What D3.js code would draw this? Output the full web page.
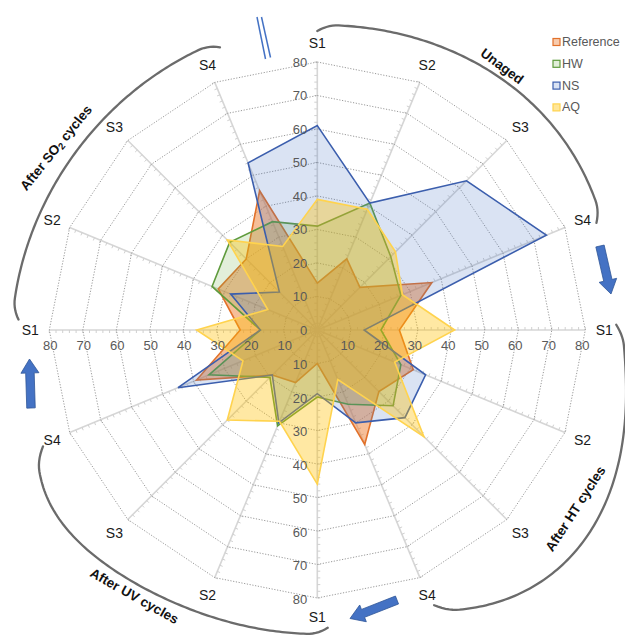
<!DOCTYPE html>
<html>
<head>
<meta charset="utf-8">
<script src="https://cdn.jsdelivr.net/npm/d3@7"></script>
<style>
  body { margin: 0; background: #fff; }
  svg { display: block; font-family: "Liberation Sans", Arial, Helvetica, sans-serif; }
</style>
</head>
<body>
<svg id="chart" width="625" height="637"></svg>
<script>
// ---- data ----
const categories = ["S1","S2","S3","S4","S1","S2","S3","S4","S1","S2","S3","S4","S1","S2","S3","S4"];
const groupNames = ["Unaged", "After HT cycles", "After UV cycles", "After SO2 cycles"];
const seriesNames = ["Reference", "HW", "NS", "AQ"];
const referenceValues = [14, 23, 18, 37, 24.5, 31, 26, 37, 10, 17, 19, 39, 23, 32, 30, 45];
const hwValues        = [31, 41, 31, 27, 19, 27, 32, 24, 20, 31, 20, 35, 17, 34, 37, 35];
const nsValues        = [61, 41, 63, 74, 14, 35, 37, 30, 19, 30, 19, 45, 17, 28, 16, 54];
const aqValues        = [39, 39, 33, 27.5, 41, 25, 45, 16, 46, 29.5, 38, 24, 36, 16, 38, 27];
const gridLevels = [10, 20, 30, 40, 50, 60, 70, 80];
const tickLabels = [0, 10, 20, 30, 40, 50, 60, 70, 80];

// ---- styles ----
const seriesStyles = [
  { stroke: "#E2712A", fill: "rgba(237,125,49,0.5)",  swFill: "#F8CBAD" },
  { stroke: "#5F9B3D", fill: "rgba(112,173,71,0.2)",  swFill: "#E2EFDA" },
  { stroke: "#3B5EAD", fill: "rgba(68,114,196,0.2)",  swFill: "#DAE3F3" },
  { stroke: "#FFD34E", fill: "rgba(255,192,0,0.36)",  swFill: "#FFE699" }
];
const seriesValues = [referenceValues, hwValues, nsValues, aqValues];

const cx = 317.3, cy = 330, R = 268;
const svg = d3.select("#chart");
const rScale = d3.scaleLinear().domain([0, 80]).range([0, R]);
const angle = i => i * 2 * Math.PI / categories.length;
const px = (a, r) => Math.sin(a) * r;
const py = (a, r) => -Math.cos(a) * r;

const g = svg.append("g").attr("transform", `translate(${cx},${cy})`);

// ---- spokes with minor ticks ----
const spokes = g.append("g");
categories.forEach((c, i) => {
  const a = angle(i);
  spokes.append("line")
    .attr("x1", 0).attr("y1", 0)
    .attr("x2", px(a, R)).attr("y2", py(a, R))
    .attr("stroke", "#d6d6d6").attr("stroke-width", 1.6);
  const tx = -Math.cos(a), ty = -Math.sin(a);
  d3.range(2, 81, 2).forEach(v => {
    const rr = rScale(v);
    spokes.append("line")
      .attr("x1", px(a, rr)).attr("y1", py(a, rr))
      .attr("x2", px(a, rr) + tx * 3).attr("y2", py(a, rr) + ty * 3)
      .attr("stroke", "#d0d0d0").attr("stroke-width", 1);
  });
});

// ---- dotted polygon grid ----
const gridLine = d3.lineRadial()
  .angle((d, i) => angle(i))
  .curve(d3.curveLinearClosed);
gridLevels.forEach(lv => {
  g.append("path")
    .attr("d", gridLine.radius(() => rScale(lv))(categories))
    .attr("fill", "none")
    .attr("stroke", "#9a9a9a")
    .attr("stroke-width", 1)
    .attr("stroke-dasharray", "1.2,1.6");
});

// ---- series polygons ----
const seriesLine = d3.lineRadial()
  .angle((d, i) => angle(i))
  .radius(d => rScale(d))
  .curve(d3.curveLinearClosed);
seriesValues.forEach((vals, k) => {
  g.append("path")
    .attr("d", seriesLine(vals))
    .attr("fill", seriesStyles[k].fill)
    .attr("stroke", seriesStyles[k].stroke)
    .attr("stroke-width", 1.6)
    .attr("stroke-linejoin", "miter");
});

// ---- value labels on the four main axes ----
const lab = g.append("g").attr("font-size", 13).attr("fill", "#595959");
tickLabels.forEach(v => {
  const rr = rScale(v);
  // top axis
  lab.append("text").attr("x", -10).attr("y", -rr).attr("text-anchor", "end")
    .attr("dominant-baseline", "central").text(v);
  if (v === 0) return;
  // right axis
  lab.append("text").attr("x", rr - 3).attr("y", 15).attr("text-anchor", "middle")
    .attr("dominant-baseline", "central").text(v);
  // bottom axis
  lab.append("text").attr("x", -10).attr("y", rr + 1).attr("text-anchor", "end")
    .attr("dominant-baseline", "central").text(v);
  // left axis
  lab.append("text").attr("x", -rr + 1).attr("y", 15).attr("text-anchor", "middle")
    .attr("dominant-baseline", "central").text(v);
});

// ---- category labels ----
categories.forEach((c, i) => {
  const a = angle(i);
  g.append("text")
    .attr("x", px(a, 287)).attr("y", py(a, 287))
    .attr("text-anchor", "middle").attr("dominant-baseline", "central")
    .attr("font-size", 14).attr("fill", "#1a1a1a").text(c);
});

// ---- group brackets ----
const deg = Math.PI / 180;
function bracket(a0, a1, rEnd, rMid, p, hook) {
  const pts = d3.range(0, 121).map(j => {
    const t = j / 120;
    const a = a0 + (a1 - a0) * t;
    const dEnd = Math.min(t, 1 - t) * (a1 - a0);
    let rr = rEnd + (rMid - rEnd) * Math.sin(Math.PI * Math.pow(t, p));
    if (dEnd < 4) rr -= hook * Math.pow(1 - dEnd / 4, 2);
    return [px(a * deg, rr), py(a * deg, rr)];
  });
  return d3.line()(pts);
}
const brackets = [
  { a0: 0,   a1: 69,  rEnd: 305, rMid: 312, p: 1.5 },
  { a0: 89,  a1: 157, rEnd: 305, rMid: 340, p: 1.4 },
  { a0: 178, a1: 247, rEnd: 304, rMid: 320, p: 3.0 },
  { a0: 272, a1: 341, rEnd: 305, rMid: 300, p: 1.0 }
];
brackets.forEach(b => {
  g.append("path")
    .attr("d", bracket(b.a0, b.a1, b.rEnd, b.rMid, b.p, 6))
    .attr("fill", "none").attr("stroke", "#6b6b6b").attr("stroke-width", 2.3)
    .attr("stroke-linecap", "round");
});

// ---- group titles ----
const titlePos = [
  { a: 35,    r: 322, rot: 37 },
  { a: 124.7, r: 314, rot: -57 },
  { a: 214.5, r: 323, rot: 29.5 },
  { a: 304.9, r: 319, rot: -51 }
];
groupNames.forEach((name, k) => {
  const tp = titlePos[k];
  const x = px(tp.a * deg, tp.r), y = py(tp.a * deg, tp.r);
  const t = g.append("text")
    .attr("transform", `translate(${x},${y}) rotate(${tp.rot})`)
    .attr("text-anchor", "middle").attr("dominant-baseline", "central")
    .attr("font-size", 13.5).attr("font-weight", "bold").attr("fill", "#111");
  const m = name.match(/^(.*SO)(2)(.*)$/);
  if (m) {
    t.append("tspan").text(m[1]);
    t.append("tspan").attr("font-size", 9.5).attr("dy", 3).text(m[2]);
    t.append("tspan").attr("dy", -3).text(m[3]);
  } else {
    t.text(name);
  }
});

// ---- blue block arrows between groups ----
function blockArrow(x0, y0, x1, y1, shaftW, headW, headL) {
  const L = Math.hypot(x1 - x0, y1 - y0);
  const ux = (x1 - x0) / L, uy = (y1 - y0) / L;
  const nx = -uy, ny = ux;
  const bx = x1 - ux * headL, by = y1 - uy * headL;
  const pts = [
    [x0 + nx * shaftW / 2, y0 + ny * shaftW / 2],
    [bx + nx * shaftW / 2, by + ny * shaftW / 2],
    [bx + nx * headW / 2, by + ny * headW / 2],
    [x1, y1],
    [bx - nx * headW / 2, by - ny * headW / 2],
    [bx - nx * shaftW / 2, by - ny * shaftW / 2],
    [x0 - nx * shaftW / 2, y0 - ny * shaftW / 2]
  ];
  svg.append("path").attr("d", d3.line()(pts) + "Z")
    .attr("fill", "#4472C4").attr("stroke", "#2F5597").attr("stroke-width", 0.8);
}
blockArrow(600, 246, 611, 294, 8.5, 18, 14);
blockArrow(397, 600, 350, 618.5, 8.5, 18, 14);
blockArrow(31, 408, 29.5, 359, 8.5, 18, 14);

// short double stroke near the top
svg.append("line").attr("x1", 257).attr("y1", 17).attr("x2", 265.5).attr("y2", 59)
  .attr("stroke", "#4472C4").attr("stroke-width", 1.5);
svg.append("line").attr("x1", 261.5).attr("y1", 17).attr("x2", 270.5).attr("y2", 57.5)
  .attr("stroke", "#4472C4").attr("stroke-width", 1.5);

// ---- legend ----
const legend = svg.append("g").attr("transform", "translate(553,42)");
seriesNames.forEach((name, k) => {
  const row = legend.append("g").attr("transform", `translate(0,${k * 21.8})`);
  row.append("rect").attr("x", 0).attr("y", -3.5).attr("width", 7).attr("height", 7)
    .attr("fill", seriesStyles[k].swFill).attr("stroke", seriesStyles[k].stroke).attr("stroke-width", 1.2);
  row.append("text").attr("x", 9).attr("y", 0).attr("dominant-baseline", "central")
    .attr("font-size", 12.5).attr("fill", "#595959").text(name);
});
</script>
</body>
</html>
